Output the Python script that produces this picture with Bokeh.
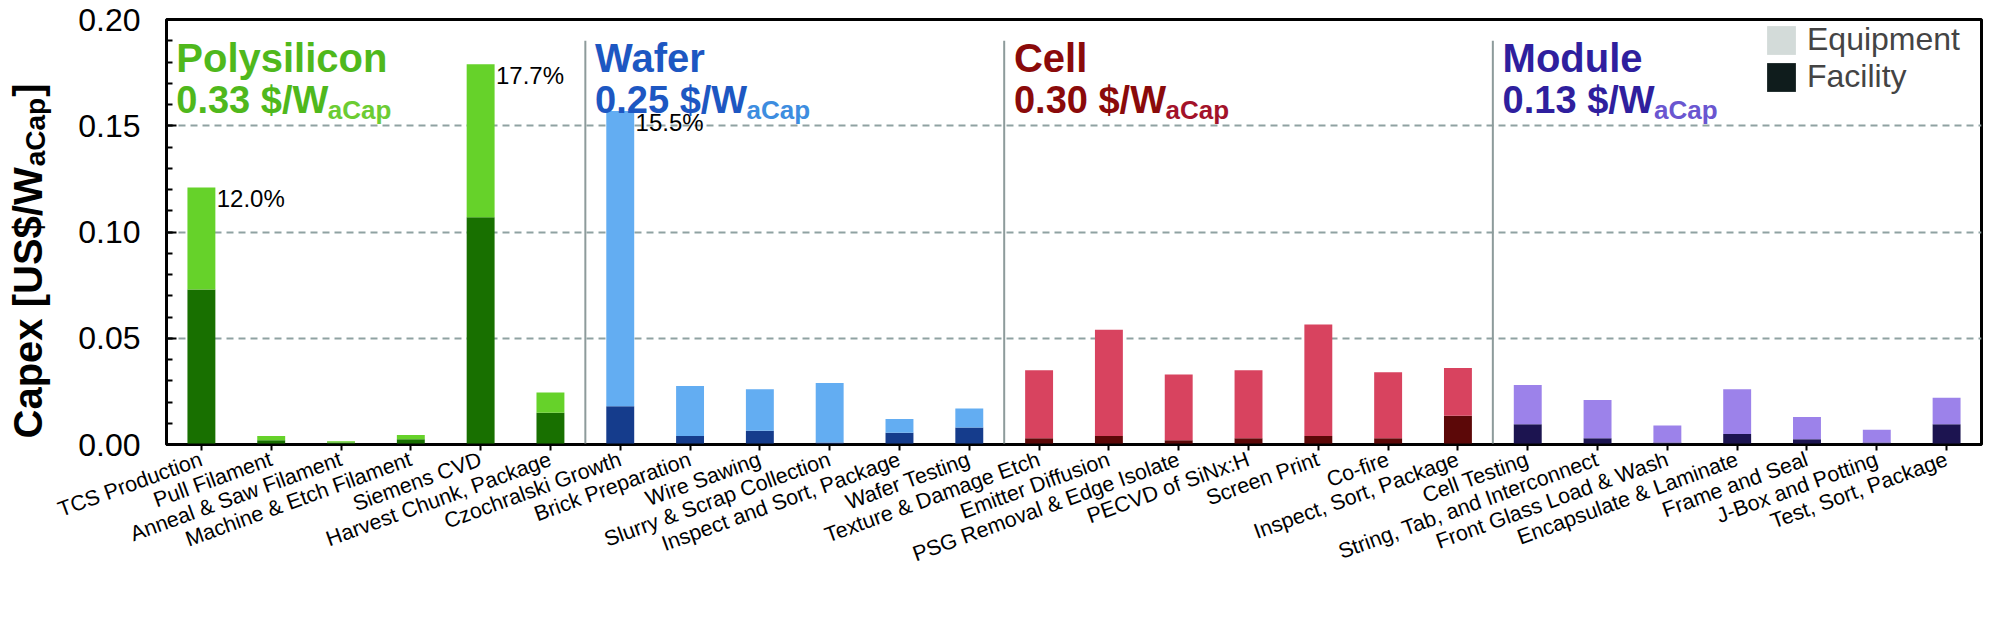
import math
from bokeh.plotting import figure
from bokeh.models import (ColumnDataSource, FixedTicker, SingleIntervalTicker,
                          PrintfTickFormatter, Label, Legend, LegendItem)
from bokeh.core.properties import value
from bokeh.embed import file_html
from bokeh.resources import INLINE

# ---------------- data ----------------
steps = [
    "TCS Production", "Pull Filament", "Anneal & Saw Filament", "Machine & Etch Filament",
    "Siemens CVD", "Harvest Chunk, Package",
    "Czochralski Growth", "Brick Preparation", "Wire Sawing", "Slurry & Scrap Collection",
    "Inspect and Sort, Package", "Wafer Testing",
    "Texture & Damage Etch", "Emitter Diffusion", "PSG Removal & Edge Isolate",
    "PECVD of SiNx:H", "Screen Print", "Co-fire", "Inspect, Sort, Package",
    "Cell Testing", "String, Tab, and Interconnect", "Front Glass Load & Wash",
    "Encapsulate & Laminate", "Frame and Seal", "J-Box and Potting", "Test, Sort, Package",
]
step_section = (["Polysilicon"] * 6 + ["Wafer"] * 6 + ["Cell"] * 7 + ["Module"] * 7)

facility = [0.073, 0.002, 0.001, 0.0025, 0.107, 0.015,
            0.018, 0.004, 0.0065, 0.001, 0.0055, 0.008,
            0.003, 0.004, 0.002, 0.003, 0.004, 0.003, 0.0135,
            0.0095, 0.003, 0.001, 0.005, 0.0025, 0.001, 0.0095]
equipment = [0.048, 0.002, 0.0005, 0.002, 0.072, 0.0095,
             0.139, 0.0235, 0.0195, 0.028, 0.0065, 0.009,
             0.032, 0.050, 0.031, 0.032, 0.0525, 0.031, 0.0225,
             0.0185, 0.018, 0.008, 0.021, 0.0105, 0.006, 0.0125]

section_names = ["Polysilicon", "Wafer", "Cell", "Module"]
section_totals = ["0.33", "0.25", "0.30", "0.13"]

pct_steps = ["TCS Production", "Siemens CVD", "Czochralski Growth"]
pct_text = ["12.0%", "17.7%", "15.5%"]

y_ticks = [0.00, 0.05, 0.10, 0.15, 0.20]
legend_labels = ["Equipment", "Facility"]
y_title = ["Capex [US$/W", "aCap", "]"]

# ---------------- styles ----------------
eq_colors = {"Polysilicon": "#66d22a", "Wafer": "#63adf2", "Cell": "#d8435f", "Module": "#9c82ea"}
fac_colors = {"Polysilicon": "#187000", "Wafer": "#153c8c", "Cell": "#5c0808", "Module": "#1c1450"}
title_colors = {"Polysilicon": "#4fb81c", "Wafer": "#1d57c2", "Cell": "#8a0a0a", "Module": "#2f1f9e"}
sub_colors = {"Polysilicon": "#6ccc33", "Wafer": "#3d8de0", "Cell": "#a3122a", "Module": "#6a56d0"}
legend_colors = ["#d3dbd9", "#0f1c1c"]
FONT = "Liberation Sans"

W, H = 1985, 614
MB_L, MB_R, MB_T, MB_B = 148, 4, 19, 170
LEFT_TOTAL = 165                     # axis + y-title panels actually used on the left
FRAME_W = W - LEFT_TOTAL - MB_R
FRAME_H = H - MB_T - MB_B

x = list(range(len(steps)))
tops = [f + e for f, e in zip(facility, equipment)]
src = ColumnDataSource(dict(
    x=x, fac=facility, top=tops,
    eqc=[eq_colors[s] for s in step_section],
    facc=[fac_colors[s] for s in step_section],
))

p = figure(width=W, height=H, x_range=(-0.5, len(steps) - 0.5), y_range=(0, 0.2),
           output_backend="svg", toolbar_location=None,
           min_border_left=MB_L, min_border_right=MB_R, min_border_top=MB_T, min_border_bottom=MB_B)

p.background_fill_color = "white"
p.border_fill_color = "white"
p.outline_line_color = "black"
p.outline_line_width = 3

# grid
p.xgrid.visible = False
p.ygrid.ticker = FixedTicker(ticks=y_ticks[1:-1])
p.ygrid.grid_line_color = "#8fa2a2"
p.ygrid.grid_line_dash = "7 5"
p.ygrid.grid_line_width = 2

# separators between sections
seps = [i - 0.5 for i in range(1, len(steps)) if step_section[i] != step_section[i - 1]]
p.segment(x0=seps, y0=[0] * len(seps), x1=seps, y1=[0.19] * len(seps),
          line_color="#8d9b9b", line_width=2)

# bars
p.vbar(x="x", width=0.4, bottom=0, top="fac", fill_color="facc", line_color=None, source=src)
p.vbar(x="x", width=0.4, bottom="fac", top="top", fill_color="eqc", line_color=None, source=src)

# percent labels
pidx = [steps.index(s) for s in pct_steps]
p.text(x=[i + 0.22 for i in pidx], y=[tops[i] + 0.001 for i in pidx], text=pct_text,
       text_font=value(FONT), text_font_size="24px", text_color="black",
       text_baseline="top", text_align="left")

# section titles
starts = [-0.5] + seps
tx = [s + 0.14 for s in starts]
tsrc = ColumnDataSource(dict(
    x=tx, name=section_names,
    val=[f"{v} $/W" for v in section_totals],
    subx=[t + 2.17 for t in tx],
    sub=["aCap"] * len(section_names),
    c=[title_colors[s] for s in section_names],
    sc=[sub_colors[s] for s in section_names],
))
p.text(x="x", y=0.182, text="name", text_color="c", source=tsrc,
       text_font=value(FONT), text_font_style="bold", text_font_size="40px",
       text_baseline="alphabetic", text_align="left")
p.text(x="x", y=0.1620, text="val", text_color="c", source=tsrc,
       text_font=value(FONT), text_font_style="bold", text_font_size="38px",
       text_baseline="alphabetic", text_align="left")
p.text(x="subx", y=0.1575, text="sub", text_color="sc", source=tsrc,
       text_font=value(FONT), text_font_style="bold", text_font_size="26px",
       text_baseline="alphabetic", text_align="left")

# y axis
p.yaxis.ticker = SingleIntervalTicker(interval=0.05, num_minor_ticks=5)
p.yaxis.formatter = PrintfTickFormatter(format="%.2f")
p.yaxis.major_tick_in = 10
p.yaxis.major_tick_out = 0
p.yaxis.minor_tick_in = 6
p.yaxis.minor_tick_out = 0
p.yaxis.axis_line_width = 2
p.yaxis.major_tick_line_width = 2
p.yaxis.minor_tick_line_width = 2
p.yaxis.major_label_text_font = FONT
p.yaxis.major_label_text_font_size = "32px"
p.yaxis.major_label_text_color = "black"
p.yaxis.major_label_standoff = 26

# x axis
p.xaxis.ticker = FixedTicker(ticks=x)
p.xaxis.major_label_overrides = {i: s for i, s in enumerate(steps)}
p.xaxis.major_label_orientation = math.radians(20)
p.xaxis.major_label_text_font = FONT
p.xaxis.major_label_text_font_size = "21.5px"
p.xaxis.major_label_text_color = "black"
p.xaxis.major_tick_in = 0
p.xaxis.major_tick_out = 6
p.xaxis.minor_tick_line_color = None
p.xaxis.axis_line_width = 2
p.xaxis.major_tick_line_width = 2
p.xaxis.major_label_standoff = 8

# y axis title (with subscript): canvas units, held in side panels so it is not clipped
ylab_fs = 40
sub_fs = 28
base_x = 27
y0 = 438
w_main = 6.78 * ylab_fs
w_sub = 2.445 * sub_fs
for txt, xx, yy, fs, side in [(y_title[0], base_x, y0, ylab_fs, "left"),
                              (y_title[1], base_x + 8, y0 - w_main - 1, sub_fs, "left"),
                              (y_title[2], base_x, y0 - w_main - w_sub - 2, ylab_fs, "below")]:
    p.add_layout(Label(x=xx, y=yy, x_units="canvas", y_units="canvas", text=txt,
                       angle=math.pi / 2, text_font=FONT, text_font_style="bold",
                       text_font_size=f"{fs}px", text_color="black",
                       text_align="left", text_baseline="alphabetic"), side)

# legend
nan = float("nan")
items = []
for lab, col in zip(legend_labels, legend_colors):
    r = p.vbar(x=[nan], top=[nan], width=0.4, fill_color=col, line_color=None)
    items.append(LegendItem(label=lab, renderers=[r]))
LEG_W, LEG_H = 209, 80
legend = Legend(items=items, location=(FRAME_W - 14 - LEG_W, FRAME_H - LEG_H),
                glyph_width=36, glyph_height=36,
                label_text_font=FONT, label_text_font_size="32px", label_height=34,
                label_standoff=8, spacing=0, padding=4, margin=0,
                background_fill_alpha=0, border_line_alpha=0)
p.add_layout(legend)

open("out.html", "w").write(file_html(p, INLINE))
